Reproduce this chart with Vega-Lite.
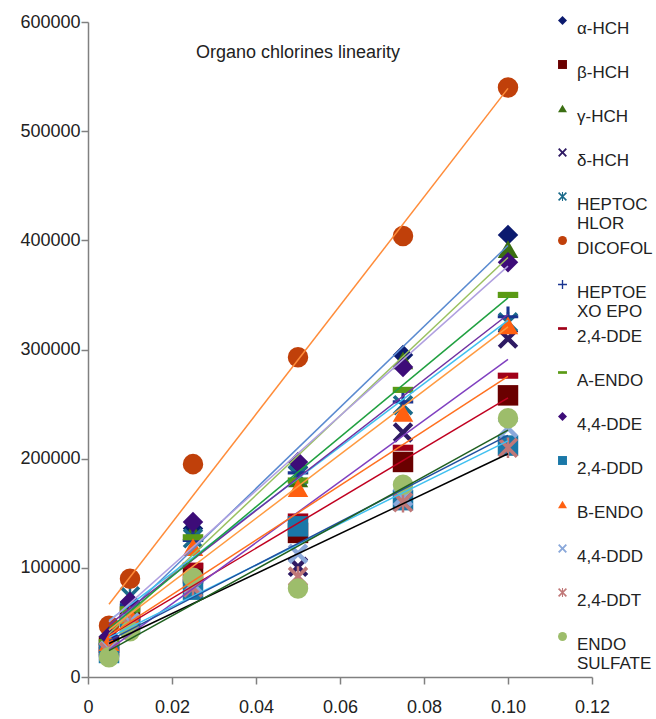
{
  "$schema": "https://vega.github.io/schema/vega-lite/v6.json",
  "width": 504,
  "height": 655,
  "autosize": {"type": "none"},
  "padding": {"left": 88, "top": 22, "right": 64, "bottom": 42},
  "background": "white",
  "title": {"text": "Organo chlorines linearity", "anchor": "start", "frame": "group", "dx": 108, "dy": 64, "offset": 0, "baseline": "alphabetic", "font": "Liberation Sans", "fontSize": 18, "fontWeight": "normal", "color": "#222222"},
  "config": {
    "view": {"stroke": null},
    "axis": {"grid": false, "domainColor": "#808080", "tickColor": "#808080", "domainWidth": 1.5, "tickWidth": 1.5, "labelFont": "Liberation Sans", "labelFontSize": 18, "labelColor": "#222222", "title": null, "tickSize": 7},
    "legend": {"orient": "none", "legendX": 466, "legendY": -10, "title": null, "padding": 0, "symbolSize": 80, "symbolStrokeWidth": 0, "labelFont": "Liberation Sans", "labelFontSize": 17, "labelColor": "#222222", "labelOffset": 6, "gridAlign": "all", "rowPadding": 0, "labelBaseline": "top"}
  },
  "data": {"values": [
    {"s": "α-HCH", "c": 0.005, "v": 33000}, {"s": "α-HCH", "c": 0.01, "v": 68000}, {"s": "α-HCH", "c": 0.025, "v": 136000}, {"s": "α-HCH", "c": 0.05, "v": 192000}, {"s": "α-HCH", "c": 0.075, "v": 295000}, {"s": "α-HCH", "c": 0.1, "v": 405000},
    {"s": "β-HCH", "c": 0.005, "v": 28000}, {"s": "β-HCH", "c": 0.01, "v": 55000}, {"s": "β-HCH", "c": 0.025, "v": 95000}, {"s": "β-HCH", "c": 0.05, "v": 132000}, {"s": "β-HCH", "c": 0.075, "v": 197000}, {"s": "β-HCH", "c": 0.1, "v": 258000},
    {"s": "γ-HCH", "c": 0.005, "v": 30000}, {"s": "γ-HCH", "c": 0.01, "v": 63000}, {"s": "γ-HCH", "c": 0.025, "v": 133000}, {"s": "γ-HCH", "c": 0.05, "v": 182000}, {"s": "γ-HCH", "c": 0.075, "v": 290000}, {"s": "γ-HCH", "c": 0.1, "v": 392000},
    {"s": "δ-HCH", "c": 0.005, "v": 27000}, {"s": "δ-HCH", "c": 0.01, "v": 58000}, {"s": "δ-HCH", "c": 0.025, "v": 88000}, {"s": "δ-HCH", "c": 0.05, "v": 101000}, {"s": "δ-HCH", "c": 0.075, "v": 224000}, {"s": "δ-HCH", "c": 0.1, "v": 310000},
    {"s": "HEPTOCHLOR", "c": 0.005, "v": 30000}, {"s": "HEPTOCHLOR", "c": 0.01, "v": 74000}, {"s": "HEPTOCHLOR", "c": 0.025, "v": 127000}, {"s": "HEPTOCHLOR", "c": 0.05, "v": 185000}, {"s": "HEPTOCHLOR", "c": 0.075, "v": 249000}, {"s": "HEPTOCHLOR", "c": 0.1, "v": 325000},
    {"s": "DICOFOL", "c": 0.005, "v": 47000}, {"s": "DICOFOL", "c": 0.01, "v": 90000}, {"s": "DICOFOL", "c": 0.025, "v": 195000}, {"s": "DICOFOL", "c": 0.05, "v": 293000}, {"s": "DICOFOL", "c": 0.075, "v": 404000}, {"s": "DICOFOL", "c": 0.1, "v": 540000},
    {"s": "HEPTOEXO EPO", "c": 0.005, "v": 30000}, {"s": "HEPTOEXO EPO", "c": 0.01, "v": 66000}, {"s": "HEPTOEXO EPO", "c": 0.025, "v": 125000}, {"s": "HEPTOEXO EPO", "c": 0.05, "v": 187000}, {"s": "HEPTOEXO EPO", "c": 0.075, "v": 252000}, {"s": "HEPTOEXO EPO", "c": 0.1, "v": 330000},
    {"s": "2,4-DDE", "c": 0.005, "v": 25000}, {"s": "2,4-DDE", "c": 0.01, "v": 55000}, {"s": "2,4-DDE", "c": 0.025, "v": 102000}, {"s": "2,4-DDE", "c": 0.05, "v": 147000}, {"s": "2,4-DDE", "c": 0.075, "v": 210000}, {"s": "2,4-DDE", "c": 0.1, "v": 276000},
    {"s": "A-ENDO", "c": 0.005, "v": 32000}, {"s": "A-ENDO", "c": 0.01, "v": 62000}, {"s": "A-ENDO", "c": 0.025, "v": 128000}, {"s": "A-ENDO", "c": 0.05, "v": 180000}, {"s": "A-ENDO", "c": 0.075, "v": 263000}, {"s": "A-ENDO", "c": 0.1, "v": 350000},
    {"s": "4,4-DDE", "c": 0.005, "v": 37000}, {"s": "4,4-DDE", "c": 0.01, "v": 69000}, {"s": "4,4-DDE", "c": 0.025, "v": 142000}, {"s": "4,4-DDE", "c": 0.05, "v": 197000}, {"s": "4,4-DDE", "c": 0.075, "v": 284000}, {"s": "4,4-DDE", "c": 0.1, "v": 380000},
    {"s": "2,4-DDD", "c": 0.005, "v": 22000}, {"s": "2,4-DDD", "c": 0.01, "v": 48000}, {"s": "2,4-DDD", "c": 0.025, "v": 80000}, {"s": "2,4-DDD", "c": 0.05, "v": 138000}, {"s": "2,4-DDD", "c": 0.075, "v": 162000}, {"s": "2,4-DDD", "c": 0.1, "v": 212000},
    {"s": "B-ENDO", "c": 0.005, "v": 32000}, {"s": "B-ENDO", "c": 0.01, "v": 57000}, {"s": "B-ENDO", "c": 0.025, "v": 119000}, {"s": "B-ENDO", "c": 0.05, "v": 173000}, {"s": "B-ENDO", "c": 0.075, "v": 242000}, {"s": "B-ENDO", "c": 0.1, "v": 322000},
    {"s": "4,4-DDD", "c": 0.005, "v": 24000}, {"s": "4,4-DDD", "c": 0.01, "v": 50000}, {"s": "4,4-DDD", "c": 0.025, "v": 85000}, {"s": "4,4-DDD", "c": 0.05, "v": 113000}, {"s": "4,4-DDD", "c": 0.075, "v": 165000}, {"s": "4,4-DDD", "c": 0.1, "v": 228000},
    {"s": "2,4-DDT", "c": 0.005, "v": 23000}, {"s": "2,4-DDT", "c": 0.01, "v": 47000}, {"s": "2,4-DDT", "c": 0.025, "v": 82000}, {"s": "2,4-DDT", "c": 0.05, "v": 92000}, {"s": "2,4-DDT", "c": 0.075, "v": 160000}, {"s": "2,4-DDT", "c": 0.1, "v": 210000},
    {"s": "ENDO SULFATE", "c": 0.005, "v": 18000}, {"s": "ENDO SULFATE", "c": 0.01, "v": 42000}, {"s": "ENDO SULFATE", "c": 0.025, "v": 91000}, {"s": "ENDO SULFATE", "c": 0.05, "v": 81000}, {"s": "ENDO SULFATE", "c": 0.075, "v": 176000}, {"s": "ENDO SULFATE", "c": 0.1, "v": 237000}
  ]},
  "layer": [
    {
      "mark": {"type": "point", "filled": true, "opacity": 1, "size": 420},
      "encoding": {
        "x": {"field": "c", "type": "quantitative", "scale": {"domain": [0, 0.12], "nice": false, "zero": true}, "axis": {"values": [0, 0.02, 0.04, 0.06, 0.08, 0.1, 0.12], "labelExpr": "datum.value == 0 ? '0' : format(datum.value, '.2f')", "labelPadding": 14, "labelFlush": false}},
        "y": {"field": "v", "type": "quantitative", "scale": {"domain": [0, 600000], "nice": false}, "axis": {"values": [0, 100000, 200000, 300000, 400000, 500000, 600000], "format": "d", "labelPadding": 1}},
        "color": {"field": "s", "type": "nominal",
          "scale": {"domain": ["α-HCH", "β-HCH", "γ-HCH", "δ-HCH", "HEPTOCHLOR", "DICOFOL", "HEPTOEXO EPO", "2,4-DDE", "A-ENDO", "4,4-DDE", "2,4-DDD", "B-ENDO", "4,4-DDD", "2,4-DDT", "ENDO SULFATE"],
            "range": ["#0b1a6e", "#6a0000", "#3b6e12", "#2e1a63", "#1a6a8a", "#c0400a", "#1a3590", "#a00018", "#5a9a15", "#3d0c78", "#1a78a8", "#ff6010", "#8aa8da", "#c07878", "#9dbd6b"]},
          "legend": {
            "labelExpr": "datum.label == 'HEPTOCHLOR' ? ['HEPTOC', 'HLOR'] : datum.label == 'HEPTOEXO EPO' ? ['HEPTOE', 'XO EPO'] : datum.label == 'ENDO SULFATE' ? ['ENDO', 'SULFATE'] : datum.label",
            "encode": {"labels": {"update": {"lineHeight": {"value": 17}, "dy": {"value": -8}}}, "symbols": {"update": {"strokeWidth": {"value": 0}}}}}},
        "shape": {"field": "s", "type": "nominal",
          "scale": {"domain": ["α-HCH", "β-HCH", "γ-HCH", "δ-HCH", "HEPTOCHLOR", "DICOFOL", "HEPTOEXO EPO", "2,4-DDE", "A-ENDO", "4,4-DDE", "2,4-DDD", "B-ENDO", "4,4-DDD", "2,4-DDT", "ENDO SULFATE"],
            "range": ["diamond", "square", "triangle-up", "M-1,-0.7L-0.3,0L-1,0.7L-0.7,1L0,0.3L0.7,1L1,0.7L0.3,0L1,-0.7L0.7,-1L0,-0.3L-0.7,-1Z", "M-1,-0.75L-0.75,-1L1,0.75L0.75,1Z M-1,0.75L0.75,-1L1,-0.75L-0.75,1Z M-0.12,-1H0.12V1H-0.12Z", "circle", "M-0.15,-1H0.15V-0.15H1V0.15H0.15V1H-0.15V0.15H-1V-0.15H-0.15Z", "M-1,-0.3H1V0.3H-1Z", "M-1,-0.3H1V0.3H-1Z", "diamond", "square", "triangle-up", "M-1,-0.7L-0.3,0L-1,0.7L-0.7,1L0,0.3L0.7,1L1,0.7L0.3,0L1,-0.7L0.7,-1L0,-0.3L-0.7,-1Z", "M-1,-0.75L-0.75,-1L1,0.75L0.75,1Z M-1,0.75L0.75,-1L1,-0.75L-0.75,1Z M-0.12,-1H0.12V1H-0.12Z", "circle"]},
          "legend": {
            "labelExpr": "datum.label == 'HEPTOCHLOR' ? ['HEPTOC', 'HLOR'] : datum.label == 'HEPTOEXO EPO' ? ['HEPTOE', 'XO EPO'] : datum.label == 'ENDO SULFATE' ? ['ENDO', 'SULFATE'] : datum.label",
            "encode": {"labels": {"update": {"lineHeight": {"value": 17}, "dy": {"value": -8}}}, "symbols": {"update": {"strokeWidth": {"value": 0}}}}}}
      }
    },
    {
      "transform": [{"regression": "v", "on": "c", "groupby": ["s"], "extent": [0.005, 0.1]}],
      "mark": {"type": "line", "strokeWidth": 1.5},
      "encoding": {
        "x": {"field": "c", "type": "quantitative"},
        "y": {"field": "v", "type": "quantitative"},
        "detail": {"field": "s"},
        "stroke": {"field": "s", "type": "nominal",
          "scale": {"domain": ["α-HCH", "β-HCH", "γ-HCH", "δ-HCH", "HEPTOCHLOR", "DICOFOL", "HEPTOEXO EPO", "2,4-DDE", "A-ENDO", "4,4-DDE", "2,4-DDD", "B-ENDO", "4,4-DDD", "2,4-DDT", "ENDO SULFATE"],
            "range": ["#5a8ad0", "#c00020", "#9ac060", "#8040c0", "#40c0f0", "#ff8c3a", "#7030a0", "#ff7020", "#20a040", "#b0a0e0", "#40c0f0", "#ff9a40", "#2050a0", "#000000", "#206020"]},
          "legend": null}
      }
    }
  ]
}
